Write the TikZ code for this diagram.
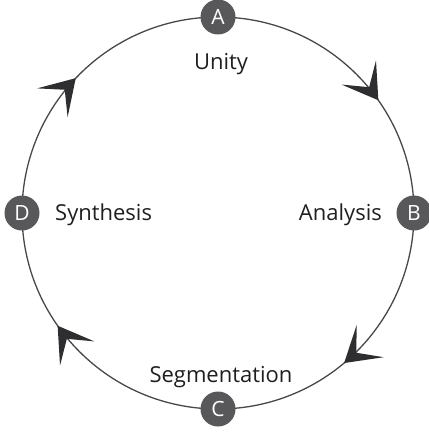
\documentclass[tikz,border=0pt]{standalone}
\usepackage{fontspec}
\setmainfont{Open Sans}
\usetikzlibrary{arrows.meta,decorations.markings}
\definecolor{ring}{HTML}{48484A}
\definecolor{disc}{HTML}{58585A}
\definecolor{tipc}{HTML}{2E2E30}
\tikzset{
  stage/.style={circle,fill=disc,inner sep=0pt,minimum size=35pt,text=white,font=\fontsize{21}{21}\selectfont},
  lbl/.style={text=black!88,font=\fontsize{22}{24}\selectfont,inner sep=0pt},
  ringline/.style={draw=ring,line width=1.3pt},
  tip/.style={postaction={decorate,decoration={markings,mark=at position #1 with {\arrow[tipc]{Stealth[length=34pt,width=42pt,inset=18pt,line width=0pt]}}}}}
}
\begin{document}
\begin{tikzpicture}[x=1pt,y=-1pt]
\useasboundingbox (0,0) rectangle (428,433);
\coordinate (O) at (218,213);
\def\R{196}
\draw[ringline,tip=0.61] ([shift={(-90:\R)}]O) arc[start angle=-90,end angle=0,radius=\R];
\draw[ringline,tip=0.555] ([shift={(0:\R)}]O) arc[start angle=0,end angle=90,radius=\R];
\draw[ringline,tip=0.61] ([shift={(90:\R)}]O) arc[start angle=90,end angle=180,radius=\R];
\draw[ringline,tip=0.483] ([shift={(180:\R)}]O) arc[start angle=180,end angle=270,radius=\R];
\node[stage] (A) at ([shift={(-90:\R)}]O) {A};
\node[stage] (B) at ([shift={(0:\R)}]O) {B};
\node[stage] (C) at ([shift={(90:\R)}]O) {C};
\node[stage] (D) at ([shift={(180:\R)}]O) {D};
\node[lbl,anchor=base] (u) at (221,70) {Unity};
\node[lbl,anchor=base east] (an) at (382,220) {Analysis};
\node[lbl,anchor=base west] (sy) at (55,220) {Synthesis};
\node[lbl,anchor=base] (se) at (221,382) {Segmentation};
\end{tikzpicture}
\end{document}
